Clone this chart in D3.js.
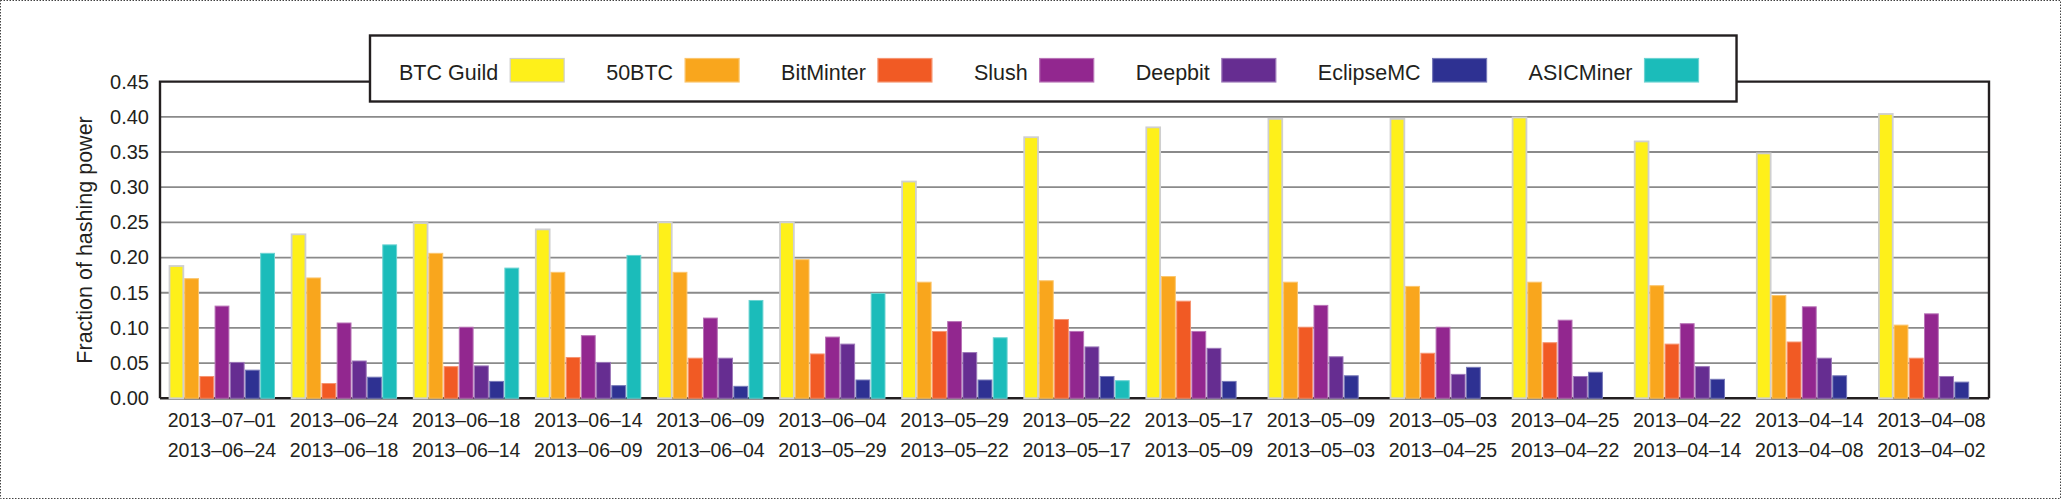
<!DOCTYPE html>
<html>
<head>
<meta charset="utf-8">
<script src="https://cdn.jsdelivr.net/npm/d3@7"></script>
<style>
  html, body { margin: 0; padding: 0; background: #fff; }
  svg text { font-family: "Liberation Sans", Arial, sans-serif; fill: #231f20; }
</style>
</head>
<body>
<svg id="chart" width="2061" height="500"></svg>
<script>
// ---- data ----
const periodStart = ["2013–07–01","2013–06–24","2013–06–18","2013–06–14","2013–06–09","2013–06–04","2013–05–29","2013–05–22","2013–05–17","2013–05–09","2013–05–03","2013–04–25","2013–04–22","2013–04–14","2013–04–08"];
const periodEnd   = ["2013–06–24","2013–06–18","2013–06–14","2013–06–09","2013–06–04","2013–05–29","2013–05–22","2013–05–17","2013–05–09","2013–05–03","2013–04–25","2013–04–22","2013–04–14","2013–04–08","2013–04–02"];
const poolNames = ["BTC Guild","50BTC","BitMinter","Slush","Deepbit","EclipseMC","ASICMiner"];
const poolColors = ["#FEF01A","#F9A61D","#F15A24","#92278F","#662D91","#2E3192","#1BBCBA"];
const btcGuild  = [0.188,0.233,0.249,0.240,0.250,0.250,0.308,0.371,0.385,0.397,0.397,0.399,0.365,0.348,0.404];
const fiftyBTC  = [0.170,0.171,0.206,0.179,0.179,0.197,0.165,0.167,0.173,0.165,0.159,0.165,0.160,0.146,0.104];
const bitMinter = [0.031,0.021,0.045,0.058,0.057,0.063,0.095,0.112,0.138,0.101,0.064,0.079,0.077,0.080,0.057];
const slush     = [0.131,0.107,0.101,0.089,0.114,0.087,0.109,0.095,0.095,0.132,0.101,0.111,0.106,0.130,0.120];
const deepbit   = [0.051,0.053,0.046,0.051,0.057,0.077,0.065,0.073,0.071,0.059,0.034,0.031,0.045,0.057,0.031];
const eclipseMC = [0.040,0.030,0.024,0.018,0.017,0.026,0.026,0.031,0.024,0.032,0.044,0.037,0.027,0.032,0.023];
const asicMiner = [0.206,0.218,0.185,0.203,0.139,0.149,0.086,0.025,null,null,null,null,null,null,null];
const yTicks = [0,0.05,0.10,0.15,0.20,0.25,0.30,0.35,0.40,0.45];
const yTitle = "Fraction of hashing power";

const seriesValues = [btcGuild, fiftyBTC, bitMinter, slush, deepbit, eclipseMC, asicMiner];

// ---- layout ----
const svg = d3.select("#chart");
const ink = "#231f20";
const plotLeft = 160, plotRight = 1989;
const y = d3.scaleLinear().domain([0, 0.45]).range([398.3, 81.6]);
const x0 = d3.scaleBand().domain(d3.range(periodStart.length)).range([169.5, 169.5 + 15 * 122.1]).padding(0);
const x1 = d3.scaleBand().domain(poolNames).range([0, 105]).paddingInner(0.09);

// outer dotted frame
svg.append("rect").attr("x", 0.5).attr("y", 0.5).attr("width", 2060).attr("height", 498)
  .attr("fill", "none").attr("stroke", "#444").attr("stroke-width", 1).attr("stroke-dasharray", "1.5,1.5");

// gridlines
svg.append("g").selectAll("line").data(yTicks.filter(t => t > 0 && t < 0.45)).join("line")
  .attr("x1", plotLeft).attr("x2", plotRight)
  .attr("y1", d => y(d)).attr("y2", d => y(d))
  .attr("stroke", "#8a8a8a").attr("stroke-width", 1.8);

// frame
svg.append("path")
  .attr("d", `M${plotLeft},${y(0)}V${y(0.45)}H${plotRight}V${y(0)}`)
  .attr("fill", "none").attr("stroke", ink).attr("stroke-width", 2.4);
svg.append("line").attr("x1", plotLeft).attr("x2", plotRight).attr("y1", y(0)).attr("y2", y(0))
  .attr("stroke", ink).attr("stroke-width", 2.4);

// y axis labels
const yAxis = d3.axisLeft(y).tickValues(yTicks).tickFormat(d3.format(".2f")).tickSize(0).tickPadding(11);
const gy = svg.append("g").attr("transform", `translate(${plotLeft},0)`).call(yAxis);
gy.select(".domain").remove();
gy.selectAll("text").attr("font-size", 20).attr("font-family", '"Liberation Sans", Arial, sans-serif').attr("fill", ink);

// y title
svg.append("text").attr("transform", `translate(92,${(y(0) + y(0.45)) / 2}) rotate(-90)`)
  .attr("text-anchor", "middle").attr("font-size", 21.5).text(yTitle);

// bars
const lighten = c => d3.interpolateRgb(c, "#ffffff")(0.35);
const groups = svg.append("g").selectAll("g").data(d3.range(periodStart.length)).join("g")
  .attr("transform", i => `translate(${x0(i)},0)`);
groups.selectAll("rect")
  .data(i => poolNames.map((name, k) => ({ name, k, v: seriesValues[k][i] })).filter(d => d.v !== null))
  .join("rect")
  .attr("x", d => x1(d.name))
  .attr("width", x1.bandwidth())
  .attr("y", d => y(d.v))
  .attr("height", d => y(0) - y(d.v))
  .attr("fill", d => poolColors[d.k])
  .attr("stroke", d => d.k === 0 ? "#cfcfcf" : lighten(poolColors[d.k]))
  .attr("stroke-width", d => d.k === 0 ? 1.8 : 1);

// x labels (two rows)
const xl = svg.append("g");
xl.selectAll("text.top").data(periodStart).join("text").attr("class", "top")
  .attr("x", (d, i) => x0(i) + 105 / 2).attr("y", 427)
  .attr("text-anchor", "middle").attr("font-size", 19.5).text(d => d);
xl.selectAll("text.bot").data(periodEnd).join("text").attr("class", "bot")
  .attr("x", (d, i) => x0(i) + 105 / 2).attr("y", 457)
  .attr("text-anchor", "middle").attr("font-size", 19.5).text(d => d);

// legend
const legend = svg.append("g");
const box = legend.append("rect").attr("y", 35.5).attr("height", 66)
  .attr("fill", "#fff").attr("stroke", ink).attr("stroke-width", 2.4);
let cx = 399;
poolNames.forEach((name, k) => {
  const t = legend.append("text").attr("x", cx).attr("y", 80).attr("font-size", 21.5).text(name);
  const w = t.node().getComputedTextLength();
  const sx = cx + w + 12;
  legend.append("rect").attr("x", sx).attr("y", 58.5).attr("width", 54).attr("height", 23.5)
    .attr("fill", poolColors[k]).attr("stroke", k === 0 ? "#cfcfcf" : lighten(poolColors[k])).attr("stroke-width", 1.2);
  cx = sx + 54 + 42;
});
box.attr("x", 370).attr("width", cx - 42 + 38 - 370);
</script>
</body>
</html>
